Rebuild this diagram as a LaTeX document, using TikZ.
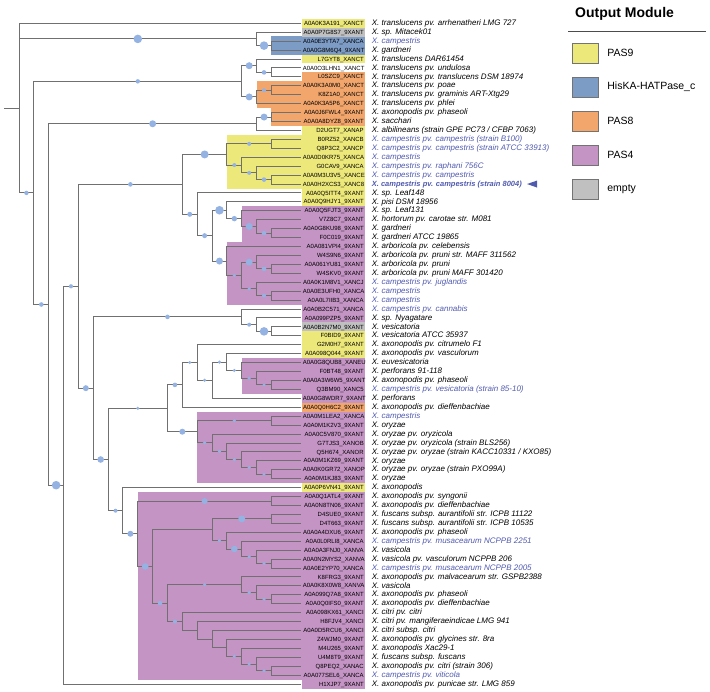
\documentclass[tikz,border=0pt]{standalone}
\usepackage{fontspec}
\setmainfont{Liberation Sans}
\usepackage{xcolor}
\usetikzlibrary{positioning,calc,backgrounds}

\definecolor{pasnine}{RGB}{236,232,122}
\definecolor{hiska}{RGB}{124,155,197}
\definecolor{paseight}{RGB}{242,166,108}
\definecolor{pasfour}{RGB}{196,148,196}
\definecolor{emptyc}{RGB}{192,192,192}
\definecolor{campblue}{RGB}{80,90,175}
\definecolor{brgray}{RGB}{112,112,112}
\definecolor{bubcol}{RGB}{148,178,226}

\newcommand{\clade}[4]{%
  \coordinate (#1m) at ($(#3)!0.5!(#4)$);
  \coordinate (#1) at (#1m -| col#2);}

\begin{document}
\begin{tikzpicture}[
    x=1pt, y=-1pt,
    br/.style={draw=brgray, line width=1pt},
    bub/.style={circle, fill=bubcol, inner sep=0pt, minimum size=#1pt},
    idbox/.style={rectangle, inner sep=0pt, minimum width=63.5pt, minimum height=8.93pt, text width=61pt, align=right, text height=4.4pt, text depth=0.2pt, font=\fontsize{6}{6}\selectfont},
    spn/.style={inner sep=0pt, text height=6pt, text depth=1.7pt, font=\fontsize{8}{9}\selectfont\itshape},
    spc/.style={spn, text=campblue},
    spcb/.style={spc, font=\fontsize{7.5}{9}\selectfont\bfseries\itshape},
    legbox/.style={draw=black!55, line width=0.4pt, minimum width=26pt, minimum height=20pt, inner sep=0pt},
    legtext/.style={inner sep=0pt, font=\fontsize{10.5}{12}\selectfont},
    legtitle/.style={inner sep=0pt, font=\fontsize{14}{16}\selectfont\bfseries}
]
\useasboundingbox (0,0) rectangle (710,692);

\foreach \d in {0,...,17} \coordinate (col\d) at ({19+14.85*\d},0);

\foreach \i/\code/\sp/\col/\tc in {
  1/A0A0K3A191\_XANCT/{X. translucens pv. arrhenatheri LMG 727}/pasnine/spn,
  2/A0A0P7G8S7\_9XANT/{X. sp. Mitacek01}/emptyc/spn,
  3/A0A0E3YTA7\_XANCA/{X. campestris}/hiska/spc,
  4/A0A0G8M6Q4\_9XANT/{X. gardneri}/hiska/spn,
  5/L7GYT8\_XANCT/{X. translucens DAR61454}/pasnine/spn,
  6/A0A0O3LHN1\_XANCT/{X. translucens pv. undulosa}/none/spn,
  7/L0SZC9\_XANCT/{X. translucens pv. translucens DSM 18974}/paseight/spn,
  8/A0A0K3A0M0\_XANCT/{X. translucens pv. poae}/paseight/spn,
  9/K8Z1A0\_XANCT/{X. translucens pv. graminis ART-Xtg29}/paseight/spn,
  10/A0A0K3A5P6\_XANCT/{X. translucens pv. phlei}/paseight/spn,
  11/A0A0J6FWL4\_9XANT/{X. axonopodis pv. phaseoli}/paseight/spn,
  12/A0A0A8DYZ8\_9XANT/{X. sacchari}/paseight/spn,
  13/D2UGT7\_XANAP/{X. albilineans (strain GPE PC73 / CFBP 7063)}/pasnine/spn,
  14/B0RZ52\_XANCB/{X. campestris pv. campestris (strain B100)}/pasnine/spc,
  15/Q8P3C2\_XANCP/{X. campestris pv. campestris (strain ATCC 33913)}/pasnine/spc,
  16/A0A0D0KR75\_XANCA/{X. campestris}/pasnine/spc,
  17/G0CAV9\_XANCA/{X. campestris pv. raphani 756C}/pasnine/spc,
  18/A0A0M3U3V5\_XANCE/{X. campestris pv. campestris}/pasnine/spc,
  19/A0A0H2XCS3\_XANC8/{X. campestris pv. campestris (strain 8004)}/pasnine/spcb,
  20/A0A0Q5ITT4\_9XANT/{X. sp. Leaf148}/pasnine/spn,
  21/A0A0Q9HJY1\_9XANT/{X. pisi DSM 18956}/pasnine/spn,
  22/A0A0Q5FJT3\_9XANT/{X. sp. Leaf131}/pasfour/spn,
  23/V7Z8C7\_9XANT/{X. hortorum pv. carotae str. M081}/pasfour/spn,
  24/A0A0G8KU98\_9XANT/{X. gardneri}/pasfour/spn,
  25/F0C019\_9XANT/{X. gardneri ATCC 19865}/pasfour/spn,
  26/A0A081VPI4\_9XANT/{X. arboricola pv. celebensis}/pasfour/spn,
  27/W4S9N6\_9XANT/{X. arboricola pv. pruni str. MAFF 311562}/pasfour/spn,
  28/A0A061YU81\_9XANT/{X. arboricola pv. pruni}/pasfour/spn,
  29/W4SKV0\_9XANT/{X. arboricola pv. pruni MAFF 301420}/pasfour/spn,
  30/A0A0K1M8V1\_XANCJ/{X. campestris pv. juglandis}/pasfour/spc,
  31/A0A0E3UFH0\_XANCA/{X. campestris}/pasfour/spc,
  32/A0A0L7IIB3\_XANCA/{X. campestris}/pasfour/spc,
  33/A0A0B2C571\_XANCA/{X. campestris pv. cannabis}/pasfour/spc,
  34/A0A099PZP5\_9XANT/{X. sp. Nyagatare}/pasfour/spn,
  35/A0A0B2N7M0\_9XANT/{X. vesicatoria}/emptyc/spn,
  36/F0BID9\_9XANT/{X. vesicatoria ATCC 35937}/pasnine/spn,
  37/G2M0H7\_9XANT/{X. axonopodis pv. citrumelo F1}/pasnine/spn,
  38/A0A098Q044\_9XANT/{X. axonopodis pv. vasculorum}/pasnine/spn,
  39/A0A0G8QUB8\_XANEU/{X. euvesicatoria}/pasfour/spn,
  40/F0BT48\_9XANT/{X. perforans 91-118}/pasfour/spn,
  41/A0A0A3W6W5\_9XANT/{X. axonopodis pv. phaseoli}/pasfour/spn,
  42/Q3BM90\_XANC5/{X. campestris pv. vesicatoria (strain 85-10)}/pasfour/spc,
  43/A0A0G8WDR7\_9XANT/{X. perforans}/pasfour/spn,
  44/A0A0Q0H6C2\_9XANT/{X. axonopodis pv. dieffenbachiae}/paseight/spn,
  45/A0A0M1LEA2\_XANCA/{X. campestris}/pasfour/spc,
  46/A0A0M1K2V3\_9XANT/{X. oryzae}/pasfour/spn,
  47/A0A0C5V870\_9XANT/{X. oryzae pv. oryzicola}/pasfour/spn,
  48/G7TJS3\_XANOB/{X. oryzae pv. oryzicola (strain BLS256)}/pasfour/spn,
  49/Q5H674\_XANOR/{X. oryzae pv. oryzae (strain KACC10331 / KXO85)}/pasfour/spn,
  50/A0A0M1KZ69\_9XANT/{X. oryzae}/pasfour/spn,
  51/A0A0K0GR72\_XANOP/{X. oryzae pv. oryzae (strain PXO99A)}/pasfour/spn,
  52/A0A0M1KJ83\_9XANT/{X. oryzae}/pasfour/spn,
  53/A0A0P6VN41\_9XANT/{X. axonopodis}/pasnine/spn,
  54/A0A0Q1ATL4\_9XANT/{X. axonopodis pv. syngonii}/pasfour/spn,
  55/A0A0N8TN06\_9XANT/{X. axonopodis pv. dieffenbachiae}/pasfour/spn,
  56/D4SUE0\_9XANT/{X. fuscans subsp. aurantifolii str. ICPB 11122}/pasfour/spn,
  57/D4T663\_9XANT/{X. fuscans subsp. aurantifolii str. ICPB 10535}/pasfour/spn,
  58/A0A0A4DXU6\_9XANT/{X. axonopodis pv. phaseoli}/pasfour/spn,
  59/A0A0L0RLI8\_XANCA/{X. campestris pv. musacearum NCPPB 2251}/pasfour/spc,
  60/A0A0A3FNJ0\_XANVA/{X. vasicola}/pasfour/spn,
  61/A0A0N2MYS2\_XANVA/{X. vasicola pv. vasculorum NCPPB 206}/pasfour/spn,
  62/A0A0E2YP70\_XANCA/{X. campestris pv. musacearum NCPPB 2005}/pasfour/spc,
  63/K8FRG3\_9XANT/{X. axonopodis pv. malvacearum str. GSPB2388}/pasfour/spn,
  64/A0A0K8X0W8\_XANVA/{X. vasicola}/pasfour/spn,
  65/A0A099Q7A8\_9XANT/{X. axonopodis pv. phaseoli}/pasfour/spn,
  66/A0A0Q0IFS0\_9XANT/{X. axonopodis pv. dieffenbachiae}/pasfour/spn,
  67/A0A098KX61\_XANCI/{X. citri pv. citri}/pasfour/spn,
  68/H8FJV4\_XANCI/{X. citri pv. mangiferaeindicae LMG 941}/pasfour/spn,
  69/A0A0D5RCU6\_XANCI/{X. citri subsp. citri}/pasfour/spn,
  70/Z4WJM0\_9XANT/{X. axonopodis pv. glycines str. 8ra}/pasfour/spn,
  71/M4U265\_9XANT/{X. axonopodis Xac29-1}/pasfour/spn,
  72/U4M8T9\_9XANT/{X. fuscans subsp. fuscans}/pasfour/spn,
  73/Q8PEQ2\_XANAC/{X. axonopodis pv. citri (strain 306)}/pasfour/spn,
  74/A0A077SEL6\_XANCA/{X. campestris pv. viticola}/pasfour/spc,
  75/H1XJP7\_9XANT/{X. axonopodis pv. punicae str. LMG 859}/pasfour/spn}{
  \node[idbox, fill=\col] (id\i) at (333.25, {23.3+8.93*(\i-1)}) {\code};
  \node[\tc, right=6.5pt of id\i] (tx\i) {\sp};
}

\clade{a2}{17}{id3}{id4}
\clade{a1}{16}{id2}{a2}
\clade{b11}{17}{id6}{id7}
\clade{b1}{16}{id5}{b11}
\clade{b21}{17}{id8}{id9}
\clade{b2}{16}{b21}{id10}
\clade{b0}{15}{b1}{b2}
\clade{c1}{17}{id11}{id12}
\clade{c0}{16}{c1}{id13}
\clade{y1}{17}{id14}{id15}
\clade{y4}{17}{id18}{id19}
\clade{y3}{16}{id17}{y4}
\clade{y2}{15}{id16}{y3}
\clade{y0}{14}{y1}{y2}
\clade{g3}{17}{id24}{id25}
\clade{g2}{16}{id23}{g3}
\clade{g1}{15}{id22}{g2}
\clade{g0}{14}{id21}{g1}
\clade{h3}{17}{id28}{id29}
\clade{h2}{16}{id27}{h3}
\clade{h5}{17}{id31}{id32}
\clade{h4}{16}{id30}{h5}
\clade{h1}{15}{h2}{h4}
\clade{h0}{14}{id26}{h1}
\clade{f0}{13}{g0}{h0}
\clade{e0}{12}{id20}{f0}
\clade{d0}{11}{y0}{e0}
\clade{i2}{17}{id35}{id36}
\clade{i1}{16}{id34}{i2}
\clade{i0}{15}{id33}{i1}
\clade{k6}{17}{id41}{id42}
\clade{k5}{16}{id40}{k6}
\clade{k4}{15}{id39}{k5}
\clade{k3}{14}{id38}{k4}
\clade{k2}{13}{k3}{id43}
\clade{k1}{12}{id37}{k2}
\clade{k0}{11}{k1}{id44}
\clade{o6}{17}{id51}{id52}
\clade{o5}{16}{id50}{o6}
\clade{o4}{15}{id49}{o5}
\clade{o3}{14}{id48}{o4}
\clade{o2}{13}{id47}{o3}
\clade{o1}{17}{id45}{id46}
\clade{o0}{12}{o1}{o2}
\clade{j0}{10}{k0}{o0}
\clade{p1}{17}{id54}{id55}
\clade{r1}{17}{id56}{id57}
\clade{r5}{17}{id61}{id62}
\clade{r4}{16}{id60}{r5}
\clade{r3}{15}{id59}{r4}
\clade{r2}{14}{id58}{r3}
\clade{r0}{13}{r1}{r2}
\clade{t2}{17}{id65}{id66}
\clade{t1}{16}{id64}{t2}
\clade{t0}{15}{id63}{t1}
\clade{u6}{17}{id73}{id74}
\clade{u5}{16}{id72}{u6}
\clade{u4}{15}{id71}{u5}
\clade{u3}{14}{id70}{u4}
\clade{u2}{13}{id69}{u3}
\clade{u1}{12}{id68}{u2}
\clade{u0}{11}{id67}{u1}
\clade{s0}{10}{t0}{u0}
\clade{q0}{9}{r0}{s0}
\clade{p0}{8}{p1}{q0}
\clade{n7}{7}{id53}{p0}
\clade{n6}{6}{j0}{n7}
\clade{n5}{5}{i0}{n6}
\clade{n4}{4}{d0}{n5}
\clade{n3}{3}{n4}{id75}
\clade{n2}{2}{c0}{n3}
\clade{n1}{1}{b0}{n2}
\clade{root}{0}{id1}{n1}
\coordinate (stem) at ($(root)+(-15,0)$);

\begin{pgfonlayer}{background}
\fill[hiska] (a2 |- id3.north) rectangle (id4.south east);
\fill[paseight] (b2 |- id8.north) rectangle (id10.south east);
\fill[paseight] (c1 |- id11.north) rectangle (id12.south east);
\fill[pasnine] (y0 |- id14.north) rectangle (id19.south east);
\fill[pasfour] (g1 |- id22.north) rectangle (id25.south east);
\fill[pasfour] (h0 |- id26.north) rectangle (id32.south east);
\fill[pasfour] (k4 |- id39.north) rectangle (id42.south east);
\fill[pasfour] (o0 |- id45.north) rectangle (id52.south east);
\fill[pasfour] (p0 |- id54.north) rectangle (id74.south east);
\end{pgfonlayer}

\draw[br] (stem) -- (root);
\foreach \p/\l in {root/1, a1/2, a2/3, a2/4, b1/5, b11/6, b11/7, b21/8, b21/9, b2/10,
    c1/11, c1/12, c0/13, y1/14, y1/15, y2/16, y3/17, y4/18, y4/19, e0/20, g0/21, g1/22,
    g2/23, g3/24, g3/25, h0/26, h2/27, h3/28, h3/29, h4/30, h5/31, h5/32, i0/33, i1/34,
    i2/35, i2/36, k1/37, k3/38, k4/39, k5/40, k6/41, k6/42, k2/43, k0/44, o1/45, o1/46,
    o2/47, o3/48, o4/49, o5/50, o6/51, o6/52, n7/53, p1/54, p1/55, r1/56, r1/57, r2/58,
    r3/59, r4/60, r5/61, r5/62, t0/63, t1/64, t2/65, t2/66, u0/67, u1/68, u2/69, u3/70,
    u4/71, u5/72, u6/73, u6/74, n3/75}
  \draw[br] (\p) |- (id\l);
\foreach \p/\c/\s in {root/a1/8.6, root/n1/4.4, a1/a2/8.6,
    n1/b0/4.4, n1/n2/4.6, b0/b1/7, b0/b2/7, b1/b11/4.6, b2/b21/4,
    n2/c0/7, n2/n3/8.6, c0/c1/7, n3/n4/4.2, n4/d0/4.6, n4/n5/6,
    d0/y0/8, d0/e0/5, y0/y1/4, y0/y2/4, y2/y3/4, y3/y4/4.6, e0/f0/5,
    f0/g0/8.6, f0/h0/7, g0/g1/5.4, g1/g2/7, g2/g3/4.6,
    h0/h1/3.4, h1/h2/7, h1/h4/3.6, h2/h3/4.6, h4/h5/4,
    n5/i0/4.6, n5/n6/6.6, i0/i1/4, i1/i2/8.6, n6/j0/3.4, n6/n7/4,
    j0/k0/4.6, j0/o0/6, k0/k1/3.4, k1/k2/3.4, k2/k3/3.4, k3/k4/3.4, k4/k5/3.4, k5/k6/3.4,
    o0/o1/3.4, o0/o2/3.4, o2/o3/3.4, o3/o4/3.4, o4/o5/3.4, o5/o6/3.4,
    n7/p0/6, p0/p1/6, p0/q0/6.6, q0/r0/0, q0/s0/4.6,
    r0/r1/7, r0/r2/3.4, r2/r3/6.6, r3/r4/3.4, r4/r5/3.4,
    s0/t0/3.4, s0/u0/4, t0/t1/3.4, t1/t2/3.4,
    u0/u1/0, u1/u2/0, u2/u3/0, u3/u4/3.4, u4/u5/3.4, u5/u6/3.4}
  \draw[br] (\p) |- (\c) node[bub=\s, pos=.75] {};

\coordinate (mk) at ([xshift=5pt]tx19.east);
\fill[campblue] (mk) -- ++(10,3.5) -- ++(0,-7) -- cycle;

\node[legtitle, anchor=west] (ltitle) at (575,14) {Output Module};
\coordinate (rulel) at (568,31);
\coordinate (ruler) at (706,31);
\draw[black!70, line width=0.8pt] (rulel) -- (ruler);
\foreach \k/\col/\lab in {0/pasnine/PAS9, 1/hiska/HisKA-HATPase\_c, 2/paseight/PAS8, 3/pasfour/PAS4, 4/emptyc/empty}{
  \node[legbox, fill=\col] (lb\k) at (585, {53+34*\k}) {};
  \node[legtext, right=9pt of lb\k] (lt\k) {\lab};
}
\end{tikzpicture}
\end{document}
